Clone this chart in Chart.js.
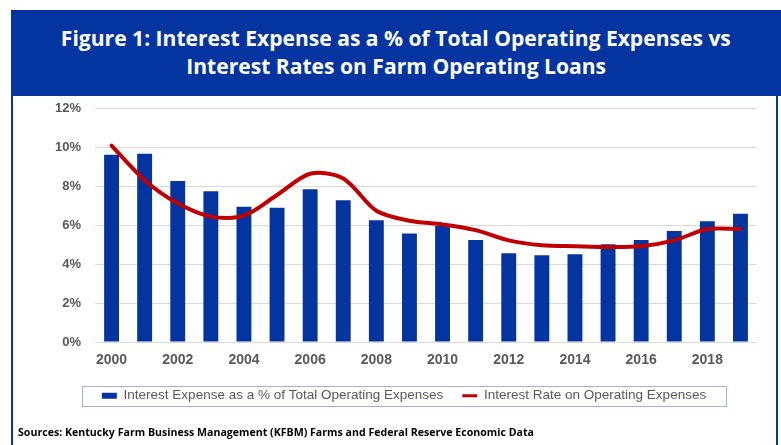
<!DOCTYPE html>
<html>
<head>
<meta charset="utf-8">
<script src="https://cdn.jsdelivr.net/npm/chart.js@4"></script>
<style>
  html, body { margin: 0; padding: 0; background: #fff; }
  body { width: 781px; height: 445px; position: relative; overflow: hidden; }
  #frame {
    position: absolute; left: 11px; top: 10px; width: 767px; height: 460px;
    box-sizing: border-box;
    border-left: 2px solid #0334A0; border-right: 2px solid #0334A0;
  }
  #header {
    position: absolute; left: 11px; top: 10px; width: 770px; height: 86px;
    background: #0334A0; color: #fff;
    font-family: "Open Sans", sans-serif; font-weight: bold; font-size: 21px;
  }
  .tline {
    position: absolute; left: 0; width: 100%; text-align: center;
    white-space: nowrap; line-height: 1;
  }
  .tline span { display: inline-block; transform-origin: center center; }
  #source {
    position: absolute; left: 18px; top: 426px;
    font-family: "Open Sans", sans-serif; font-weight: bold; font-size: 11px;
    line-height: 1; white-space: nowrap; color: #000;
    transform-origin: left center;
  }
  #chart { position: absolute; left: 0; top: 0; }
</style>
</head>
<body>
<div id="frame"></div>
<div id="header">
  <div class="tline" style="top:18px"><span id="t1">Figure 1: Interest Expense as a % of Total Operating Expenses vs</span></div>
  <div class="tline" style="top:46px"><span id="t2">Interest Rates on Farm Operating Loans</span></div>
</div>
<canvas id="chart" width="781" height="445"></canvas>
<div id="source">Sources: Kentucky Farm Business Management (KFBM) Farms and Federal Reserve Economic Data</div>

<script>
// Years on the x axis
const years = ['2000', '2001', '2002', '2003', '2004', '2005', '2006', '2007', '2008', '2009',
               '2010', '2011', '2012', '2013', '2014', '2015', '2016', '2017', '2018', '2019'];

// Interest expense as a share of total operating expenses (%)
const expenseShare = [9.60, 9.65, 8.26, 7.73, 6.93, 6.89, 7.83, 7.27, 6.24, 5.57,
                      5.95, 5.23, 4.55, 4.45, 4.50, 5.01, 5.23, 5.69, 6.19, 6.58];

// Interest rate on farm operating loans (%)
const loanRate = [10.07, 8.30, 7.11, 6.43, 6.48, 7.54, 8.63, 8.39, 6.73, 6.22,
                  6.03, 5.74, 5.21, 4.96, 4.91, 4.87, 4.91, 5.21, 5.79, 5.79];

const yMin = 0;
const yMax = 12;
const yStep = 2;

const BLUE = '#0334A0';
const RED = '#C00000';
const GREY_TEXT = '#595959';

// squeeze the title lines and source note to their widths
function fitWidth(el, target) {
  const w = el.getBoundingClientRect().width;
  return target / w;
}
const t1 = document.getElementById('t1');
const t2 = document.getElementById('t2');
const titleScale = fitWidth(t1, 670);
t1.style.transform = `scaleX(${titleScale})`;
t2.style.transform = `scaleX(${titleScale})`;
const src = document.getElementById('source');
src.style.transform = `scaleX(${fitWidth(src, 516)})`;

// thin border around the legend row
const legendFrame = {
  id: 'legendFrame',
  afterDraw(chart) {
    const boxes = chart.legend && chart.legend.legendHitBoxes;
    if (!boxes || !boxes.length) return;
    const lefts = boxes.map(b => b.left);
    const rights = boxes.map(b => b.left + b.width);
    const cy = boxes[0].top + boxes[0].height / 2;
    const left = Math.round(Math.min(...lefts) - 20);
    const right = Math.round(Math.max(...rights) + 20);
    const ctx = chart.ctx;
    ctx.save();
    ctx.strokeStyle = '#9DB3DE';
    ctx.lineWidth = 1;
    ctx.strokeRect(left + 0.5, Math.round(cy - 10) + 0.5, right - left, 20);
    ctx.restore();
  }
};

new Chart(document.getElementById('chart'), {
  data: {
    labels: years,
    datasets: [
      {
        type: 'bar',
        label: 'Interest Expense as a % of Total Operating Expenses',
        data: expenseShare,
        backgroundColor: BLUE,
        borderWidth: 0,
        barPercentage: 0.45,
        categoryPercentage: 1,
        order: 2
      },
      {
        type: 'line',
        label: 'Interest Rate on Operating Expenses',
        data: loanRate,
        borderColor: RED,
        backgroundColor: RED,
        borderWidth: 4,
        pointRadius: 0,
        tension: 0.3,
        borderCapStyle: 'round',
        order: 1
      }
    ]
  },
  options: {
    responsive: false,
    animation: false,
    layout: { padding: { left: 51, right: 24, top: 108, bottom: 32.5 } },
    plugins: {
      title: { display: false },
      tooltip: { enabled: false },
      legend: {
        position: 'bottom',
        labels: {
          color: GREY_TEXT,
          font: { family: 'Liberation Sans, Arial', size: 13.5 },
          usePointStyle: true,
          pointStyleWidth: 15,
          boxHeight: 6,
          padding: 19,
          generateLabels(chart) {
            const items = Chart.defaults.plugins.legend.labels.generateLabels(chart);
            items.sort((a, b) => a.datasetIndex - b.datasetIndex);
            items.forEach(it => {
              const ds = chart.data.datasets[it.datasetIndex];
              if (ds.type === 'line') {
                it.pointStyle = 'line';
                it.lineWidth = 3;
              } else {
                it.pointStyle = 'rect';
                it.lineWidth = 0;
              }
            });
            return items;
          }
        }
      }
    },
    scales: {
      x: {
        offset: true,
        grid: { display: false, drawTicks: false },
        border: { display: false },
        ticks: {
          autoSkip: false,
          maxRotation: 0,
          padding: 10,
          color: GREY_TEXT,
          font: { family: 'Liberation Sans, Arial', size: 14, weight: 'bold' },
          callback: (v, i) => (i % 2 === 0 ? years[i] : '')
        },
        afterFit: s => { s.height = 28; }
      },
      y: {
        min: yMin,
        max: yMax,
        grid: { color: '#D9D9D9', lineWidth: 1, drawTicks: false },
        border: { display: false },
        ticks: {
          stepSize: yStep,
          padding: 14,
          color: GREY_TEXT,
          font: { family: 'Liberation Sans, Arial', size: 13, weight: 'bold' },
          callback: v => v + '%'
        },
        afterFit: s => { s.width = 44; }
      }
    }
  },
  plugins: [legendFrame]
});
</script>
</body>
</html>
